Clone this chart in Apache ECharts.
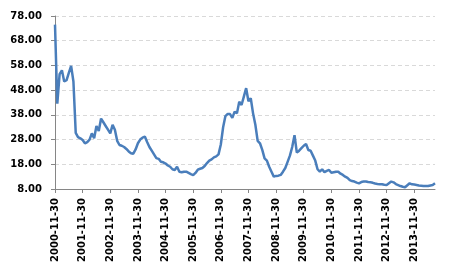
<!DOCTYPE html>
<html>
<head>
<meta charset="utf-8">
<script src="https://cdn.jsdelivr.net/npm/echarts@6/dist/echarts.min.js"></script>
<style>
html,body{margin:0;padding:0;background:#fff;}
#chart{width:450px;height:272px;}
</style>
</head>
<body>
<div id="chart"></div>
<script>
// Month-end dates from 2000-11-30 onward (one value per month)
const startYear = 2000, startMonth = 10; // November (0-based)
const values = [
  74.5, 42.5, 54.5, 56.0, 51.5, 52.0, 55.0, 57.8, 51.5, 30.7,
  29.0, 28.5, 27.8, 26.5, 27.0, 28.0, 30.5, 28.5, 33.5, 31.5,
  36.5, 35.0, 33.5, 32.0, 30.5, 34.0, 32.0, 27.5, 25.8, 25.5,
  25.0, 24.2, 23.2, 22.5, 22.3, 24.0, 26.5, 28.0, 28.8, 29.2,
  27.0, 25.0, 23.5, 22.0, 20.5, 20.2, 19.0, 18.8, 18.3, 17.5,
  17.0, 16.0, 15.7, 17.0, 15.0, 14.8, 15.0, 15.0, 14.5, 14.0,
  13.6, 14.5, 15.8, 16.2, 16.5, 17.3, 18.5, 19.5, 20.0, 20.8,
  21.2, 22.0, 26.0, 33.0, 37.5, 38.4, 38.3, 36.8, 39.3, 38.6,
  43.3, 42.0, 45.4, 48.8, 43.5, 44.7, 38.6, 34.0, 27.5, 26.5,
  23.8, 20.4, 19.5, 17.0, 15.0, 13.0, 13.3, 13.4, 13.7, 15.0,
  16.5, 19.0, 21.5, 25.0, 29.8, 22.7, 23.5, 24.5, 25.5, 26.2,
  23.8, 23.5, 21.5, 19.5, 16.0, 15.0, 16.0, 14.8, 15.3, 15.7,
  14.6, 14.8, 15.0, 15.0, 14.2, 13.7, 13.0, 12.5, 11.6, 11.2,
  11.0, 10.6, 10.3, 10.8, 11.0, 11.0, 10.8, 10.7, 10.5, 10.2,
  10.0, 9.9, 9.9, 9.7, 9.6, 10.3, 11.0, 10.7, 10.0, 9.6,
  9.2, 8.9, 8.7, 9.5, 10.3, 9.9, 9.8, 9.6, 9.4, 9.3,
  9.2, 9.2, 9.2, 9.4, 9.6, 10.3
];
const yTicks = [8, 18, 28, 38, 48, 58, 68, 78];

function pad(n){ return (n < 10 ? '0' : '') + n; }
const categories = values.map(function(_, i){
  const y = startYear + Math.floor((startMonth + i) / 12);
  const m = (startMonth + i) % 12;
  const last = new Date(Date.UTC(y, m + 1, 0)).getUTCDate();
  return y + '-' + pad(m + 1) + '-' + pad(last);
});

const chart = echarts.init(document.getElementById('chart'), null, {renderer: 'canvas'});
const font = '"DejaVu Sans", sans-serif';
chart.setOption({
  animation: false,
  grid: {left: 55, right: 15, top: 16, bottom: 83, containLabel: false},
  xAxis: {
    type: 'category',
    data: categories,
    boundaryGap: false,
    axisLine: {lineStyle: {color: '#868686', width: 1}},
    axisTick: {show: true, interval: 11, length: 4, lineStyle: {color: '#868686'}},
    axisLabel: {
      interval: 11, rotate: 90, margin: 9,
      color: '#000', fontFamily: font, fontWeight: 'bold', fontSize: 10
    },
    splitLine: {show: false}
  },
  yAxis: {
    type: 'value',
    min: 8, max: 78,
    axisLine: {show: true, lineStyle: {color: '#868686', width: 1}},
    axisTick: {show: true, length: 4, customValues: yTicks, lineStyle: {color: '#868686'}},
    axisLabel: {
      customValues: yTicks, margin: 13,
      color: '#000', fontFamily: font, fontWeight: 'bold', fontSize: 10,
      formatter: function(v){ return v.toFixed(2); }
    },
    splitLine: {show: true, lineStyle: {color: '#d9d9d9', type: [4, 3], width: 1}}
  },
  series: [{
    type: 'line',
    data: values,
    symbol: 'none',
    smooth: false,
    lineStyle: {color: '#4a7ebb', width: 2.5},
    itemStyle: {color: '#4a7ebb'}
  }]
});
</script>
</body>
</html>
